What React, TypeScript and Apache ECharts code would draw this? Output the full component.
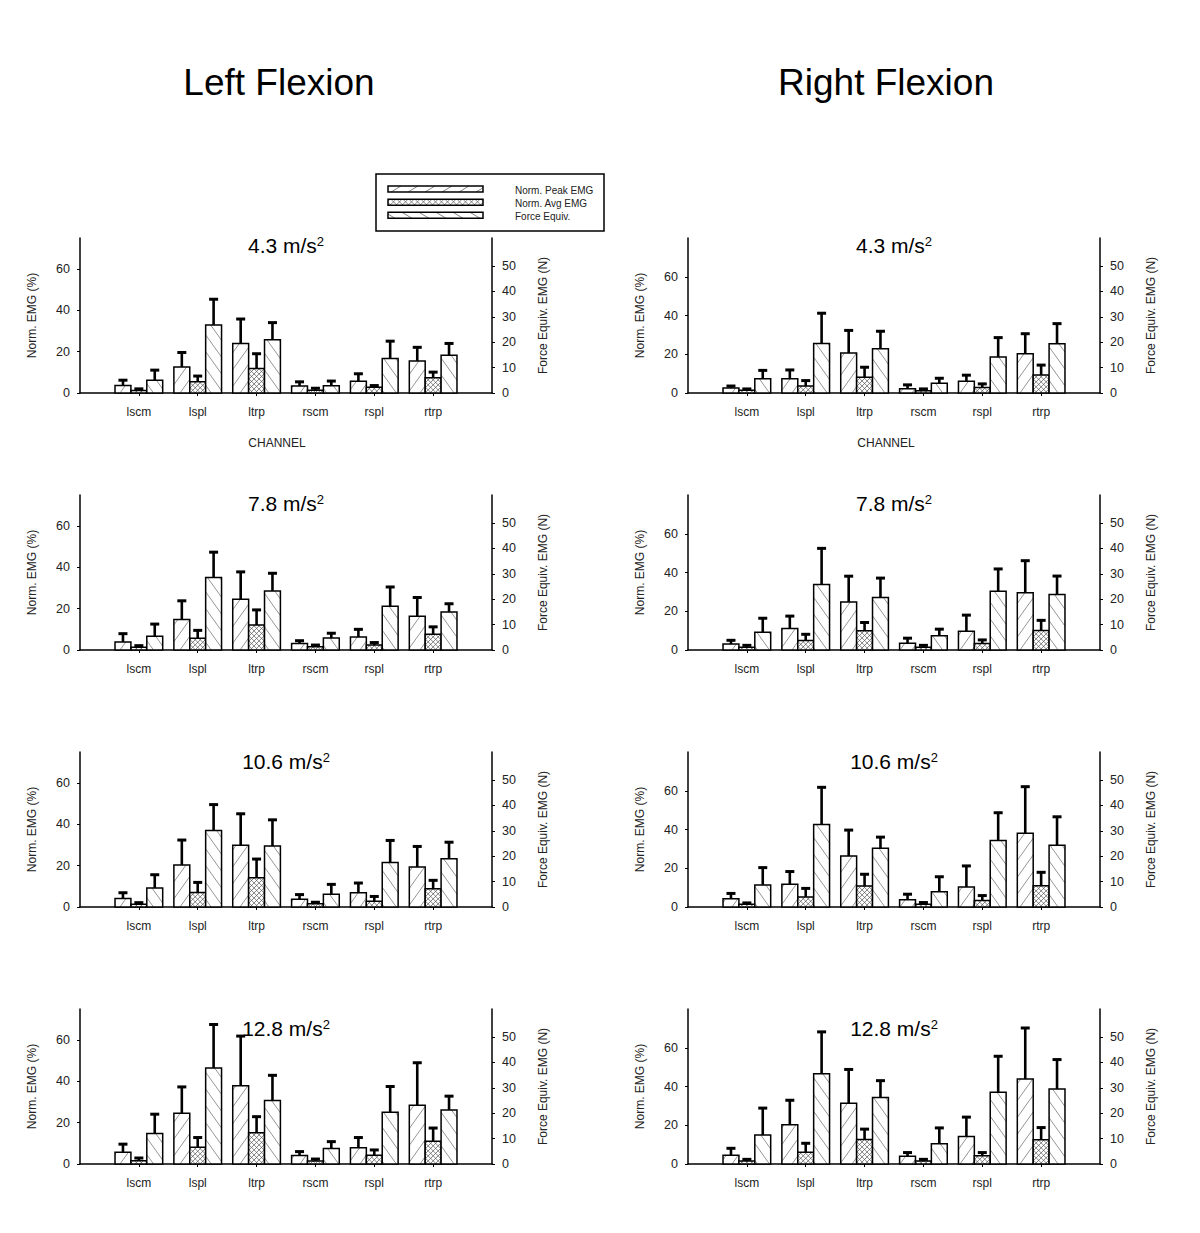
import React, { useEffect, useRef } from "react";
import * as echarts from "echarts";

const FONT = "'Liberation Sans', Arial, Helvetica, sans-serif";

const channels = ["lscm", "lspl", "ltrp", "rscm", "rspl", "rtrp"];
const catPos = [1, 2, 3, 4, 5, 6];
const accelTitles = ["4.3", "7.8", "10.6", "12.8"];
const leftTicks = [0, 20, 40, 60];
const rightTicks = [0, 10, 20, 30, 40, 50];

// ---------- Left Flexion ----------
const L43_peak = [3.6, 12.6, 23.9, 3.4, 5.7, 15.5];
const L43_peakSD = [2.6, 7.0, 11.9, 2.0, 3.6, 6.6];
const L43_avg = [1.2, 5.4, 11.8, 1.3, 2.8, 7.4];
const L43_avgSD = [0.8, 2.8, 7.2, 1.0, 0.8, 2.7];
const L43_force = [5.0, 26.8, 21.0, 2.9, 13.6, 14.9];
const L43_forceSD = [4.0, 10.1, 6.7, 1.8, 6.8, 4.6];

const L78_peak = [3.9, 14.7, 24.6, 3.1, 6.3, 16.3];
const L78_peakSD = [4.0, 9.1, 13.2, 1.4, 3.7, 9.1];
const L78_avg = [1.3, 5.7, 12.1, 1.6, 2.4, 7.6];
const L78_avgSD = [0.8, 3.8, 7.3, 0.8, 1.2, 3.6];
const L78_force = [5.4, 28.5, 23.2, 4.7, 17.2, 15.0];
const L78_forceSD = [4.8, 10.0, 7.0, 1.9, 7.6, 3.2];

const L106_peak = [4.1, 20.3, 29.9, 3.8, 6.9, 19.3];
const L106_peakSD = [2.8, 12.1, 15.2, 2.2, 4.7, 10.0];
const L106_avg = [1.3, 7.0, 14.2, 1.6, 2.8, 8.8];
const L106_avgSD = [0.8, 4.9, 9.0, 0.7, 2.3, 4.1];
const L106_force = [7.5, 30.1, 24.0, 5.0, 17.5, 19.0];
const L106_forceSD = [5.2, 10.2, 10.3, 3.9, 8.7, 6.5];

const L128_peak = [5.7, 24.6, 37.9, 4.1, 7.9, 28.4];
const L128_peakSD = [3.9, 12.7, 24.0, 1.9, 4.9, 20.6];
const L128_avg = [1.6, 8.1, 15.1, 1.5, 4.2, 11.0];
const L128_avgSD = [1.3, 4.7, 7.8, 0.9, 2.6, 6.4];
const L128_force = [12.0, 37.8, 25.0, 6.1, 20.4, 21.3];
const L128_forceSD = [7.6, 17.1, 9.9, 2.7, 10.1, 5.4];

// ---------- Right Flexion ----------
const R43_peak = [2.6, 7.4, 20.6, 2.2, 6.1, 20.2];
const R43_peakSD = [1.0, 4.5, 11.7, 2.0, 3.1, 10.4];
const R43_avg = [1.4, 3.6, 8.1, 1.2, 2.9, 9.3];
const R43_avgSD = [0.7, 2.8, 5.2, 0.9, 1.8, 5.1];
const R43_force = [5.6, 19.5, 17.4, 3.8, 14.2, 19.4];
const R43_forceSD = [3.3, 11.9, 6.9, 2.0, 7.6, 7.9];

const R78_peak = [3.1, 11.1, 24.8, 3.5, 9.7, 29.5];
const R78_peakSD = [1.9, 6.4, 13.3, 2.6, 8.3, 16.6];
const R78_avg = [1.4, 4.9, 9.9, 1.4, 3.3, 10.1];
const R78_avgSD = [1.0, 3.2, 4.3, 1.0, 1.9, 5.2];
const R78_force = [7.0, 25.8, 20.7, 5.6, 23.1, 21.8];
const R78_forceSD = [5.5, 14.2, 7.6, 2.6, 8.8, 7.3];

const R106_peak = [4.2, 11.8, 26.3, 3.8, 10.3, 38.1];
const R106_peakSD = [2.8, 6.5, 13.4, 2.8, 10.9, 24.0];
const R106_avg = [1.4, 5.2, 10.8, 1.4, 3.3, 11.0];
const R106_avgSD = [0.7, 4.4, 6.1, 0.9, 2.6, 6.9];
const R106_force = [8.7, 32.5, 23.1, 6.0, 26.2, 24.3];
const R106_forceSD = [6.8, 14.6, 4.4, 5.9, 10.9, 11.2];

const R128_peak = [4.5, 20.2, 31.3, 4.0, 14.2, 43.9];
const R128_peakSD = [3.6, 12.7, 17.5, 1.9, 10.0, 26.3];
const R128_avg = [1.6, 6.1, 12.6, 1.5, 4.2, 12.5];
const R128_avgSD = [0.8, 4.6, 5.4, 0.9, 1.7, 6.3];
const R128_force = [11.4, 35.5, 26.2, 8.0, 28.2, 29.5];
const R128_forceSD = [10.6, 16.5, 6.6, 6.2, 14.2, 11.6];

const legendLabels = ["Norm. Peak EMG", "Norm. Avg EMG", "Force Equiv."];

type Panel = {
  col: number;
  row: number;
  vals: number[][];
  sds: number[][];
};

const panels: Panel[] = [
  { col: 0, row: 0, vals: [L43_peak, L43_avg, L43_force], sds: [L43_peakSD, L43_avgSD, L43_forceSD] },
  { col: 0, row: 1, vals: [L78_peak, L78_avg, L78_force], sds: [L78_peakSD, L78_avgSD, L78_forceSD] },
  { col: 0, row: 2, vals: [L106_peak, L106_avg, L106_force], sds: [L106_peakSD, L106_avgSD, L106_forceSD] },
  { col: 0, row: 3, vals: [L128_peak, L128_avg, L128_force], sds: [L128_peakSD, L128_avgSD, L128_forceSD] },
  { col: 1, row: 0, vals: [R43_peak, R43_avg, R43_force], sds: [R43_peakSD, R43_avgSD, R43_forceSD] },
  { col: 1, row: 1, vals: [R78_peak, R78_avg, R78_force], sds: [R78_peakSD, R78_avgSD, R78_forceSD] },
  { col: 1, row: 2, vals: [R106_peak, R106_avg, R106_force], sds: [R106_peakSD, R106_avgSD, R106_forceSD] },
  { col: 1, row: 3, vals: [R128_peak, R128_avg, R128_force], sds: [R128_peakSD, R128_avgSD, R128_forceSD] },
];

// layout
const COL_LEFT = [80, 688];
const GRID_W = 412;
const ROW_TOP = [238, 495, 752, 1009];
const GRID_H = 155;
const LEFT_MAX = [75, 80];
const RIGHT_MAX = 61;
const TITLE_Y = [245, 503, 761, 1028];
const BAR_W = 0.27;

const PATTERNS = [
  { dirs: [1], s: 12, k: 1.4, color: "#7a7a7a", lw: 0.8 },
  { dirs: [1, -1], s: 5, k: 1.0, color: "#555", lw: 0.7 },
  { dirs: [-1], s: 12, k: 1.4, color: "#7a7a7a", lw: 0.8 },
];
const LEGEND_PATTERNS = [
  { dirs: [1], s: 17, k: 0.6, color: "#666", lw: 0.8 },
  { dirs: [1, -1], s: 6, k: 1.0, color: "#555", lw: 0.7 },
  { dirs: [-1], s: 17, k: 0.6, color: "#666", lw: 0.8 },
];

function hatchLines(x: number, y: number, w: number, h: number, dir: number, s: number, k: number, color: string, lw: number) {
  const out: any[] = [];
  if (w <= 0.5 || h <= 0.5) return out;
  const span = h / k;
  const start = Math.ceil((x - span) / s) * s - x;
  for (let c = start; c < w; c += s) {
    const u0 = Math.max(0, c);
    const u1 = Math.min(w, c + span);
    if (u1 - u0 <= 0.05) continue;
    const v0 = k * (u0 - c);
    const v1 = k * (u1 - c);
    let X0 = x + u0;
    let X1 = x + u1;
    if (dir < 0) {
      X0 = x + w - u0;
      X1 = x + w - u1;
    }
    out.push({
      type: "line",
      silent: true,
      shape: { x1: X0, y1: y + h - v0, x2: X1, y2: y + h - v1 },
      style: { stroke: color, lineWidth: lw },
    });
  }
  return out;
}

function patternFill(x: number, y: number, w: number, h: number, p: any) {
  let out: any[] = [];
  p.dirs.forEach((d: number) => {
    out = out.concat(hatchLines(x, y, w, h, d, p.s, p.k, p.color, p.lw));
  });
  return out;
}

function makeRender(kind: number) {
  return (params: any, api: any) => {
    const cat = api.value(0);
    const val = api.value(1);
    const sd = api.value(2);
    const center = cat + (kind - 1) * BAR_W;
    const p0 = api.coord([center - BAR_W / 2, 0]);
    const p1 = api.coord([center + BAR_W / 2, val]);
    const pe = api.coord([center, val + sd]);
    const x = p0[0];
    const y = p1[1];
    const w = p1[0] - p0[0];
    const h = p0[1] - p1[1];
    const cx = (p0[0] + p1[0]) / 2;
    const children: any[] = [];
    children.push({ type: "rect", shape: { x, y, width: w, height: h }, style: { fill: "#fff" } });
    patternFill(x, y, w, h, PATTERNS[kind]).forEach((e) => children.push(e));
    children.push({
      type: "rect",
      shape: { x, y, width: w, height: h },
      style: { fill: "none", stroke: "#000", lineWidth: 1.5 },
    });
    children.push({
      type: "line",
      shape: { x1: cx, y1: y, x2: cx, y2: pe[1] },
      style: { stroke: "#000", lineWidth: 2.6 },
    });
    children.push({
      type: "line",
      shape: { x1: cx - 4.5, y1: pe[1], x2: cx + 4.5, y2: pe[1] },
      style: { stroke: "#000", lineWidth: 3 },
    });
    return { type: "group", children };
  };
}

function buildOption() {
  const grid: any[] = [];
  const xAxis: any[] = [];
  const yAxis: any[] = [];
  const series: any[] = [];
  const graphic: any[] = [];

  panels.forEach((p, i) => {
    const left = COL_LEFT[p.col];
    const top = ROW_TOP[p.row];
    grid.push({ left, top, width: GRID_W, height: GRID_H, containLabel: false });
    xAxis.push({
      type: "value",
      gridIndex: i,
      min: 0,
      max: 7,
      interval: 1,
      axisLine: { show: true, onZero: false, lineStyle: { color: "#000", width: 1.5 } },
      axisTick: { show: true, length: 3, customValues: catPos, lineStyle: { color: "#000" } },
      axisLabel: {
        show: true,
        customValues: catPos,
        margin: 13,
        fontSize: 12,
        fontFamily: FONT,
        color: "#222",
        formatter: (v: number) => channels[Math.round(v) - 1] || "",
      },
      splitLine: { show: false },
    });
    yAxis.push({
      type: "value",
      gridIndex: i,
      position: "left",
      min: 0,
      max: LEFT_MAX[p.col],
      interval: 20,
      name: "Norm. EMG (%)",
      nameLocation: "middle",
      nameRotate: 90,
      nameGap: 42,
      nameTextStyle: { fontSize: 12, fontFamily: FONT, color: "#222" },
      axisLine: { show: true, lineStyle: { color: "#000", width: 1.5 } },
      axisTick: { show: true, length: 3, customValues: leftTicks, lineStyle: { color: "#000" } },
      axisLabel: {
        show: true,
        customValues: leftTicks,
        margin: 10,
        fontSize: 12.5,
        fontFamily: FONT,
        color: "#222",
      },
      splitLine: { show: false },
    });
    yAxis.push({
      type: "value",
      gridIndex: i,
      position: "right",
      min: 0,
      max: RIGHT_MAX,
      interval: 10,
      name: "Force Equiv. EMG (N)",
      nameLocation: "middle",
      nameRotate: 90,
      nameGap: 45,
      nameTextStyle: { fontSize: 12, fontFamily: FONT, color: "#222" },
      axisLine: { show: true, lineStyle: { color: "#000", width: 1.5 } },
      axisTick: { show: true, length: 3, customValues: rightTicks, lineStyle: { color: "#000" } },
      axisLabel: {
        show: true,
        customValues: rightTicks,
        margin: 10,
        fontSize: 12.5,
        fontFamily: FONT,
        color: "#222",
        formatter: (v: number) => (v <= 50 ? String(v) : ""),
      },
      splitLine: { show: false },
    });
    for (let k = 0; k < 3; k++) {
      series.push({
        type: "custom",
        xAxisIndex: i,
        yAxisIndex: k === 2 ? 2 * i + 1 : 2 * i,
        clip: false,
        silent: true,
        encode: { x: 0, y: 1 },
        renderItem: makeRender(k),
        data: catPos.map((c, j) => [c, p.vals[k][j], p.sds[k][j]]),
      });
    }
    // panel title
    graphic.push({
      type: "text",
      x: left + GRID_W / 2,
      y: TITLE_Y[p.row],
      silent: true,
      style: {
        text: "{a|" + accelTitles[p.row] + " m/s}{b|2}",
        align: "center",
        verticalAlign: "middle",
        rich: {
          a: { fontSize: 21, fontFamily: FONT, fill: "#000", color: "#000" },
          b: { fontSize: 13, fontFamily: FONT, fill: "#000", color: "#000", verticalAlign: "top" },
        },
      },
    });
  });

  // Main titles
  graphic.push({
    type: "text",
    x: 279,
    y: 82,
    silent: true,
    style: { text: "Left Flexion", font: "37px " + FONT, fill: "#000", align: "center", verticalAlign: "middle" },
  });
  graphic.push({
    type: "text",
    x: 886,
    y: 82,
    silent: true,
    style: { text: "Right Flexion", font: "37px " + FONT, fill: "#000", align: "center", verticalAlign: "middle" },
  });
  // CHANNEL labels
  [277, 886].forEach((cx) => {
    graphic.push({
      type: "text",
      x: cx,
      y: 443,
      silent: true,
      style: { text: "CHANNEL", font: "12px " + FONT, fill: "#222", align: "center", verticalAlign: "middle" },
    });
  });

  // Legend
  graphic.push({
    type: "rect",
    silent: true,
    shape: { x: 376, y: 174, width: 228, height: 57 },
    style: { fill: "#fff", stroke: "#000", lineWidth: 1.5 },
  });
  const swY = [186, 199.3, 212.3];
  const txY = [190, 203, 216];
  legendLabels.forEach((lab, k) => {
    const sx = 388;
    const sw = 95;
    const sh = 6;
    graphic.push({ type: "rect", silent: true, shape: { x: sx, y: swY[k], width: sw, height: sh }, style: { fill: "#fff" } });
    patternFill(sx, swY[k], sw, sh, LEGEND_PATTERNS[k]).forEach((e) => graphic.push(e));
    graphic.push({
      type: "rect",
      silent: true,
      shape: { x: sx, y: swY[k], width: sw, height: sh },
      style: { fill: "none", stroke: "#000", lineWidth: 1.5 },
    });
    graphic.push({
      type: "text",
      x: 515,
      y: txY[k],
      silent: true,
      style: { text: lab, font: "10px " + FONT, fill: "#222", align: "left", verticalAlign: "middle" },
    });
  });

  return {
    animation: false,
    backgroundColor: "#fff",
    grid,
    xAxis,
    yAxis,
    series,
    graphic,
  };
}

export default function App() {
  const ref = useRef<HTMLDivElement>(null);
  useEffect(() => {
    if (!ref.current) return;
    const chart = echarts.init(ref.current, null, { renderer: "svg" });
    chart.setOption(buildOption() as any);
    return () => chart.dispose();
  }, []);
  return (
    <div
      ref={ref}
      style={{ position: "absolute", left: 0, top: 0, width: 1200, height: 1233, background: "#fff" }}
    />
  );
}
